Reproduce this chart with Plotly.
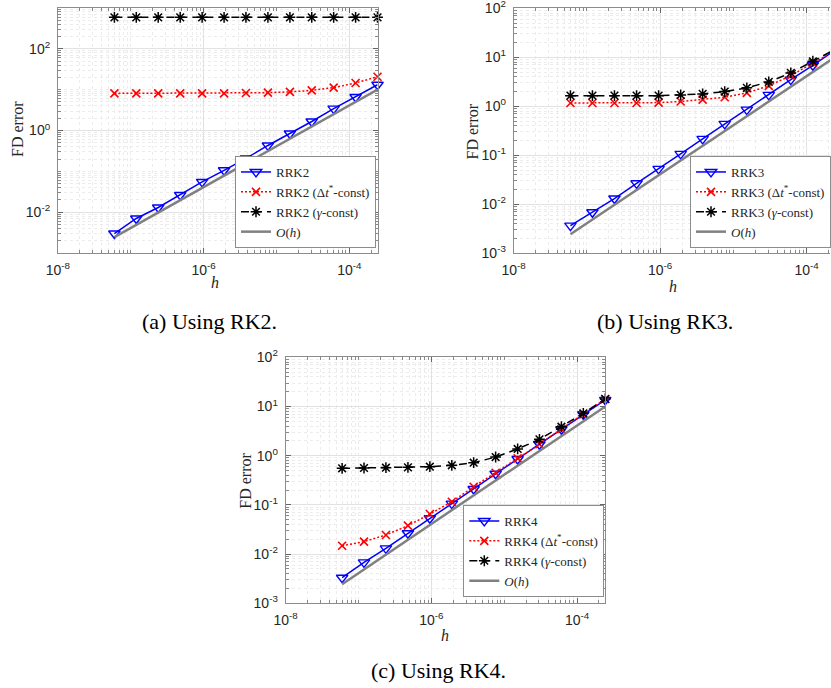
import plotly.graph_objects as go

W, H = 831, 688

# ---------------- data ----------------
h = [5.96e-8, 1.19e-7, 2.38e-7, 4.77e-7, 9.54e-7, 1.91e-6, 3.81e-6,
     7.63e-6, 1.53e-5, 3.05e-5, 6.10e-5, 1.22e-4, 2.44e-4]

order_line = [2.44e-3, 4.88e-3, 9.77e-3, 1.95e-2, 3.9e-2, 7.8e-2, 0.156,
              0.31, 0.625, 1.25, 2.5, 5.0, 10.0]

rrk2 = [3.0e-3, 7.0e-3, 1.3e-2, 2.64e-2, 5.5e-2, 0.106, 0.207, 0.43, 0.845,
        1.66, 3.44, 6.6, 13.2]
rrk2_dt = [8.1, 8.1, 8.1, 8.1, 8.1, 8.1, 8.3, 8.45, 8.8, 9.6, 11.2, 14.6, 20.7]
rrk2_gamma = [590, 590, 590, 590, 590, 590, 590, 590, 590, 590, 590, 590, 590]

rrk3 = [3.67e-3, 6.87e-3, 1.31e-2, 2.68e-2, 5.28e-2, 0.107, 0.216, 0.437,
        0.857, 1.71, 3.5, 6.87, 13.9]
rrk3_dt = [1.17, 1.17, 1.17, 1.17, 1.19, 1.25, 1.37, 1.53, 1.88, 2.61, 4.23,
           7.69, 13.3]
rrk3_gamma = [1.65, 1.65, 1.65, 1.65, 1.65, 1.71, 1.79, 2.0, 2.38, 3.15, 4.8,
              8.3, 14.4]

rrk4 = [3.31e-3, 6.8e-3, 1.31e-2, 2.65e-2, 5.34e-2, 0.106, 0.21, 0.43, 0.857,
        1.71, 3.44, 6.94, 13.6]
rrk4_dt = [1.48e-2, 1.79e-2, 2.45e-2, 3.78e-2, 6.53e-2, 0.116, 0.234, 0.451,
           0.885, 1.71, 3.49, 6.94, 14.2]
rrk4_gamma = [0.555, 0.562, 0.57, 0.58, 0.598, 0.638, 0.721, 0.94, 1.37, 2.15,
              3.88, 7.28, 14.2]

methods = ["RRK2", "RRK3", "RRK4"]
captions = ["(a) Using RK2.", "(b) Using RK3.", "(c) Using RK4."]
series = [(rrk2, rrk2_dt, rrk2_gamma), (rrk3, rrk3_dt, rrk3_gamma),
          (rrk4, rrk4_dt, rrk4_gamma)]

# tick values / labels
x_tickvals = [1e-8, 1e-6, 1e-4]
x_ticktext = ["10<sup>-8</sup>", "10<sup>-6</sup>", "10<sup>-4</sup>"]
ya_tickvals = [1e-2, 1e0, 1e2]
ya_ticktext = ["10<sup>-2</sup>", "10<sup>0</sup>", "10<sup>2</sup>"]
ybc_tickvals = [1e-3, 1e-2, 1e-1, 1e0, 1e1, 1e2]
ybc_ticktext = ["10<sup>-3</sup>", "10<sup>-2</sup>", "10<sup>-1</sup>",
                "10<sup>0</sup>", "10<sup>1</sup>", "10<sup>2</sup>"]

# ---------------- layout geometry (pixels) ----------------
# (left, right, top, bottom)
boxes = [(58, 378, 8, 253), (514.3, 831, 8.3, 253.3), (286, 606, 357.3, 603.3)]
xranges = [[-8, -3.6124], [-8, -8 + (831 - 514.3) / 73.3], [-8, -3.6124]]
yranges = [[-3, 3], [-3, 2], [-3, 2]]
yticks = [(ya_tickvals, ya_ticktext), (ybc_tickvals, ybc_ticktext),
          (ybc_tickvals, ybc_ticktext)]
# legend: (left, bottom)
legend_pos = [(235, 248), (691, 248), (463.3, 597)]
ylabel_pos = [(17, 129), (473, 131), (245, 481)]
xlabel_pos = [(215, 283), (674, 286), (446, 635)]
caption_pos = [(210, 321), (666, 321), (439, 670)]

sans = "Liberation Sans, Arial, Helvetica, sans-serif"
serif = "Liberation Serif, Times New Roman, serif"

fig = go.Figure()

for i, (m, (s_main, s_dt, s_g)) in enumerate(zip(methods, series)):
    sfx = "" if i == 0 else str(i + 1)
    xa, ya = "x" + sfx, "y" + sfx
    lg = "legend" + sfx
    common = dict(x=h, xaxis=xa, yaxis=ya, legend=lg, cliponaxis=False)
    fig.add_trace(go.Scatter(
        y=s_main, name=m, mode="lines+markers",
        line=dict(color="#0000ff", width=1.5),
        marker=dict(symbol="triangle-down-open", size=10, color="#0000ff",
                    line=dict(width=1.4, color="#0000ff")), **common))
    fig.add_trace(go.Scatter(
        y=s_dt, name=m + " (Δ<i>t</i><sup>*</sup>-const)", mode="lines+markers",
        line=dict(color="#ff0000", width=1.5, dash="2px,2px"),
        marker=dict(symbol="x-thin-open", size=8, color="#ff0000",
                    line=dict(width=1.6, color="#ff0000")), **common))
    fig.add_trace(go.Scatter(
        y=s_g, name=m + " (<i>γ</i>-const)", mode="lines+markers",
        line=dict(color="#000000", width=1.5, dash="8px,5px"),
        marker=dict(symbol="asterisk-open", size=9, color="#000000",
                    line=dict(width=1.5, color="#000000")), **common))
    fig.add_trace(go.Scatter(
        y=order_line, name="<i>O</i>(<i>h</i>)", mode="lines",
        line=dict(color="#808080", width=2.5), **common))

    l, r, t, b = boxes[i]
    axis_common = dict(
        type="log", showline=True, linecolor="#8c8c8c", linewidth=1,
        ticks="inside", ticklen=5, tickcolor="#666666", automargin=False,
        showgrid=True, gridcolor="#e2e2e2", gridwidth=1, zeroline=False,
        tickmode="array", ticklabeloverflow="allow",
        tickfont=dict(family=sans, size=14, color="#262626"),
        minor=dict(ticks="inside", ticklen=3, tickcolor="#888888",
                   showgrid=True, gridcolor="#ececec", griddash="dot",
                   tickmode="linear", dtick="D1"))
    fig.layout["xaxis" + sfx] = dict(
        axis_common, domain=[l / W, r / W], range=xranges[i],
        tickvals=x_tickvals, ticktext=x_ticktext, ticklabelstandoff=4,
        anchor=ya, mirror="ticks")
    tv, tt = yticks[i]
    fig.layout["yaxis" + sfx] = dict(
        axis_common, domain=[1 - b / H, 1 - t / H], range=yranges[i],
        tickvals=tv, ticktext=tt, ticklabelstandoff=4,
        anchor=xa, mirror="ticks" if i != 1 else False)

    lx, ly = legend_pos[i]
    fig.layout[lg] = dict(
        x=lx / W, y=1 - ly / H, xanchor="left", yanchor="bottom",
        xref="paper", yref="paper",
        bgcolor="white", bordercolor="#8c8c8c", borderwidth=1,
        font=dict(family=serif, size=13, color="#262626"),
        tracegroupgap=0, itemwidth=30)

    px, py = ylabel_pos[i]
    fig.add_annotation(x=px / W, y=1 - py / H, xref="paper", yref="paper",
                       xanchor="center", yanchor="middle",
                       text="FD error", showarrow=False, textangle=-90,
                       font=dict(family=serif, size=16, color="#262626"))
    px, py = xlabel_pos[i]
    fig.add_annotation(x=px / W, y=1 - py / H, xref="paper", yref="paper",
                       xanchor="center", yanchor="middle",
                       text="<i>h</i>", showarrow=False,
                       font=dict(family=serif, size=16, color="#262626"))
    px, py = caption_pos[i]
    fig.add_annotation(x=px / W, y=1 - py / H, xref="paper", yref="paper",
                       xanchor="center", yanchor="middle",
                       text=captions[i], showarrow=False,
                       font=dict(family=serif, size=22, color="#000000"))

fig.update_layout(
    width=W, height=H, margin=dict(l=0, r=0, t=0, b=0),
    paper_bgcolor="white", plot_bgcolor="white", showlegend=True)

fig.write_html("out.html")
